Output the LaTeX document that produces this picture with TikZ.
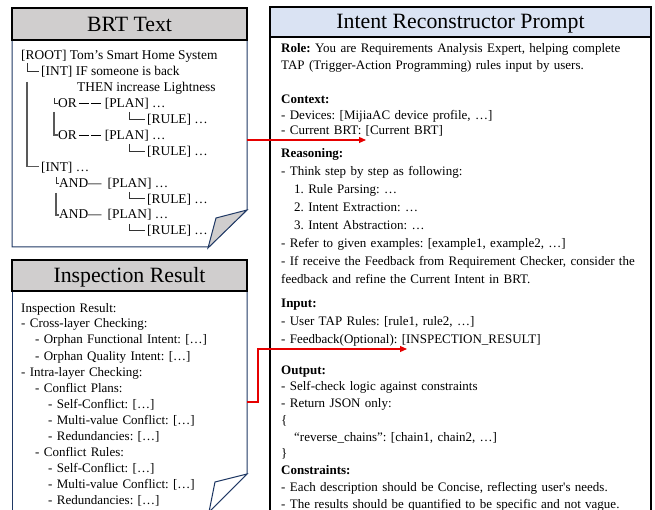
\documentclass[tikz,border=0pt]{standalone}
\usepackage{fontspec}
\setmainfont{Liberation Serif}
\usetikzlibrary{arrows.meta}
\definecolor{hdrgray}{RGB}{208,206,206}
\definecolor{hdrblue}{RGB}{218,227,243}
\definecolor{navy}{RGB}{31,56,100}
\definecolor{arrred}{RGB}{230,0,0}
\tikzset{
  hdr/.style={draw=black, line width=1.2pt},
  titletext/.style={font=\fontsize{21.8}{24}\selectfont, anchor=base, inner sep=0pt},
  txt/.style={font=\fontsize{13}{16}\selectfont, anchor=base west, inner sep=0pt},
  brt/.style={txt, font=\fontsize{13.4}{16}\selectfont},
  blk/.style={txt, text width=370pt, align=left},
  treethin/.style={draw=black!80, line width=0.8pt},
  treethick/.style={draw=black!65, line width=1.5pt},
  navyline/.style={draw=navy, line width=1pt},
  blackline/.style={draw=black, line width=1.2pt},
  conn/.style={draw=arrred, line width=1.1pt, -{Triangle[length=7pt,width=6pt]}}
}
\newcommand{\tdash}{\rule[3.6pt]{10pt}{0.9pt}}
\begin{document}
\frenchspacing
\begin{tikzpicture}[x=1pt,y=-1pt]
\useasboundingbox (0,0) rectangle (655,510);
\clip (0,0) rectangle (655,510);
% ---------- BRT box ----------
\draw[navyline] (12,40) -- (12,247) -- (208,247) -- (247,210) -- (247,40);
\draw[navyline, fill=hdrgray] (247,210) -- (216,218) -- (208,248) -- cycle;
\draw[hdr, fill=hdrgray] (12,8) rectangle (247,40);
\node[titletext] (brttitle) at (129.5,32) {BRT Text};
\node[brt] (l0) at (21,60) {[ROOT] Tom’s Smart Home System};
\node[brt] (l1) at (41,75.9) {[INT] IF someone is back};
\node[brt] (l2) at (77,91.8) {THEN increase Lightness};
\node[brt] (l3) at (58,107.7) {OR\hspace{2pt}\tdash\hspace{2pt}\tdash\hspace{4pt}[PLAN] …};
\node[brt] (l4) at (147,123.6) {[RULE] …};
\node[brt] (l5) at (58,139.5) {OR\hspace{2pt}\tdash\hspace{2pt}\tdash\hspace{4pt}[PLAN] …};
\node[brt] (l6) at (147,155.4) {[RULE] …};
\node[brt] (l7) at (41,171.3) {[INT] …};
\node[brt] (l8) at (59,187.2) {AND—\hspace{6pt}[PLAN] …};
\node[brt] (l9) at (147,203.1) {[RULE] …};
\node[brt] (l10) at (59,219) {AND—\hspace{6pt}[PLAN] …};
\node[brt] (l11) at (147,234.9) {[RULE] …};
% tree lines
\draw[treethin] (27,63) |- (39,71);
\draw[treethick] (27,82) |- (39,166.5);
\draw[treethin] (54,98) |- (58,103);
\draw[treethick] (54,112) |- (58,135);
\draw[treethin] (129,112) |- (145,119);
\draw[treethin] (129,144) |- (145,151);
\draw[treethin] (56,177) |- (59,183);
\draw[treethick] (56,193) |- (59,215);
\draw[treethin] (129,192) |- (145,198.5);
\draw[treethin] (129,224) |- (145,230.5);
% ---------- Inspection box ----------
\draw[navyline] (12,291) -- (12,520);
\draw[navyline] (247,291) -- (247,474) -- (209,512);
\draw[navyline, fill=white] (247,474) -- (215,482) -- (209,512) -- cycle;
\draw[hdr, fill=hdrgray] (12,260) rectangle (247,291);
\node[titletext] (institle) at (129.5,283) {Inspection Result};
\node[txt, text width=220pt, align=left, font=\fontsize{13}{16}\selectfont] (insp) at (21,312) {Inspection Result:\\
- Cross-layer Checking:\\
\hspace*{14pt}- Orphan Functional Intent: […]\\
\hspace*{14pt}- Orphan Quality Intent: […]\\
- Intra-layer Checking:\\
\hspace*{14pt}- Conflict Plans:\\
\hspace*{27pt}- Self-Conflict: […]\\
\hspace*{27pt}- Multi-value Conflict: […]\\
\hspace*{27pt}- Redundancies: […]\\
\hspace*{14pt}- Conflict Rules:\\
\hspace*{27pt}- Self-Conflict: […]\\
\hspace*{27pt}- Multi-value Conflict: […]\\
\hspace*{27pt}- Redundancies: […]};
% ---------- Prompt box ----------
\draw[blackline] (270,37) -- (270,520);
\draw[blackline] (651,37) -- (651,520);
\draw[hdr, fill=hdrblue] (270,7) rectangle (651,37);
\node[titletext] (ptitle) at (460.5,29) {Intent Reconstructor Prompt};
\node[blk, font=\fontsize{13}{17}\selectfont] (role) at (281,53) {\textbf{Role:} You are Requirements Analysis Expert, helping complete\\TAP (Trigger-Action Programming) rules input by users.};
\node[blk, font=\fontsize{13}{15.5}\selectfont] (context) at (281,104) {\textbf{Context:}\\- Devices: [MijiaAC device profile, …]\\- Current BRT: [Current BRT]};
\node[blk, font=\fontsize{13}{18}\selectfont] (reasoning) at (281,158) {\textbf{Reasoning:}\\
- Think step by step as following:\\
\hspace*{13pt}1. Rule Parsing: …\\
\hspace*{13pt}2. Intent Extraction: …\\
\hspace*{13pt}3. Intent Abstraction: …\\
- Refer to given examples: [example1, example2, …]\\
- If receive the Feedback from Requirement Checker, consider the\\
feedback and refine the Current Intent in BRT.};
\node[blk, font=\fontsize{13}{18}\selectfont] (input) at (281,307) {\textbf{Input:}\\- User TAP Rules: [rule1, rule2, …]\\- Feedback(Optional): [INSPECTION\_RESULT]};
\node[blk, font=\fontsize{13}{16.75}\selectfont] (output) at (281,374) {\textbf{Output:}\\
- Self-check logic against constraints\\
- Return JSON only:\\
\{\\
\hspace*{13pt}“reverse\_chains”: [chain1, chain2, …]\\
\}\\
\textbf{Constraints:}\\
- Each description should be Concise, reflecting user\textquotesingle s needs.\\
- The results should be quantified to be specific and not vague.};
% ---------- connectors ----------
\coordinate (brtout) at (247,140);
\coordinate (ctxin) at (366,140);
\draw[conn] (brtout) -- (ctxin);
\coordinate (insout) at (247,402);
\coordinate (fbin) at (407,349);
\draw[conn] (insout) -- ++(11,0) |- (fbin);
\end{tikzpicture}
\end{document}
